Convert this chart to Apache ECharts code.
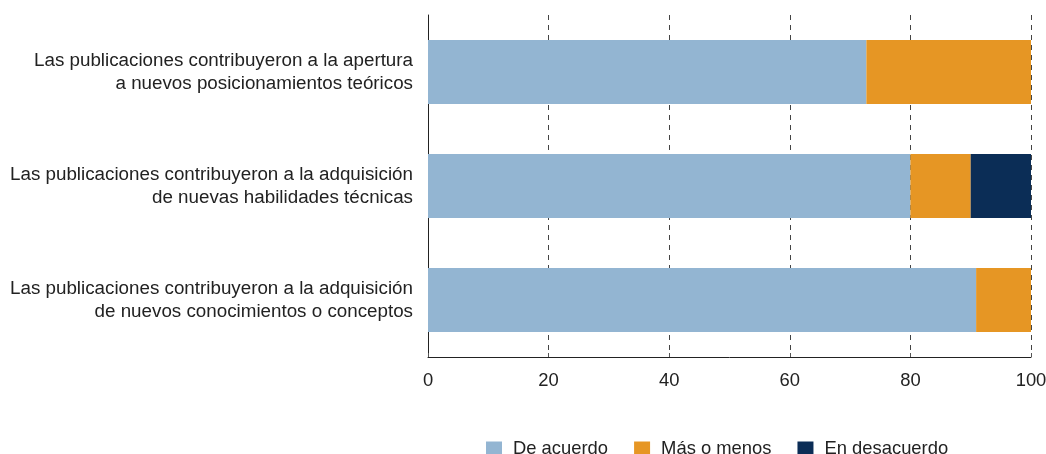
<!DOCTYPE html>
<html>
<head>
<meta charset="utf-8">
<script src="https://cdn.jsdelivr.net/npm/echarts@6/dist/echarts.min.js"></script>
<style>
  html, body { margin: 0; padding: 0; background: #fff; }
  #ch1 { width: 1046px; height: 454px; }
</style>
</head>
<body>
<div id="ch1"></div>
<script>
var categories = [
  'Las publicaciones contribuyeron a la adquisición\nde nuevos conocimientos o conceptos',
  'Las publicaciones contribuyeron a la adquisición\nde nuevas habilidades técnicas',
  'Las publicaciones contribuyeron a la apertura\na nuevos posicionamientos teóricos'
];
var deAcuerdo = [90.9, 80, 72.7];
var masOMenos = [9.1, 10, 27.3];
var enDesacuerdo = [0, 10, 0];
var xTicks = [0, 20, 40, 60, 80, 100];

window.onload = function() {
  var ch1 = echarts.init(document.getElementById('ch1'));
  var font = 'Liberation Sans, Arial, sans-serif';
  var fs = 18.4;
  var op1 = {
    animation: false,
    textStyle: { fontFamily: font },
    legend: {
      left: 481,
      top: 435,
      itemWidth: 16,
      itemHeight: 15,
      itemGap: 26,
      icon: 'rect',
      textStyle: { fontSize: fs, color: '#222', fontFamily: font, padding: [0, 0, 0, 6] },
      data: ['De acuerdo', 'Más o menos', 'En desacuerdo']
    },
    grid: {
      left: 428,
      right: 15,
      top: 15,
      bottom: 97,
      containLabel: false,
      outerBoundsMode: 'none'
    },
    xAxis: {
      type: 'value',
      min: xTicks[0],
      max: xTicks[xTicks.length - 1],
      interval: 20,
      axisLine: { show: true, lineStyle: { color: '#222', width: 1 } },
      axisTick: { show: true, inside: true, length: 4, lineStyle: { color: '#555' } },
      axisLabel: { fontSize: fs, color: '#222', margin: 15, fontFamily: font },
      splitLine: { show: true, lineStyle: { type: [5, 5], color: '#444', width: 1 } }
    },
    yAxis: {
      type: 'category',
      data: categories,
      axisLine: { show: true, lineStyle: { color: '#222', width: 1 } },
      axisTick: { show: false },
      axisLabel: { fontSize: 18.8, color: '#222', margin: 15, align: 'right', lineHeight: 23, padding: [6, 0, 0, 0], fontFamily: font }
    },
    series: [{
      name: 'De acuerdo',
      type: 'bar',
      stack: 'a',
      barWidth: 64,
      itemStyle: { color: '#93b5d2' },
      data: deAcuerdo
    }, {
      name: 'Más o menos',
      type: 'bar',
      stack: 'a',
      barWidth: 64,
      itemStyle: { color: '#e69624' },
      data: masOMenos
    }, {
      name: 'En desacuerdo',
      type: 'bar',
      stack: 'a',
      barWidth: 64,
      itemStyle: { color: '#0b2d56' },
      data: enDesacuerdo
    }]
  };
  ch1.setOption(op1);
};
</script>
</body>
</html>
